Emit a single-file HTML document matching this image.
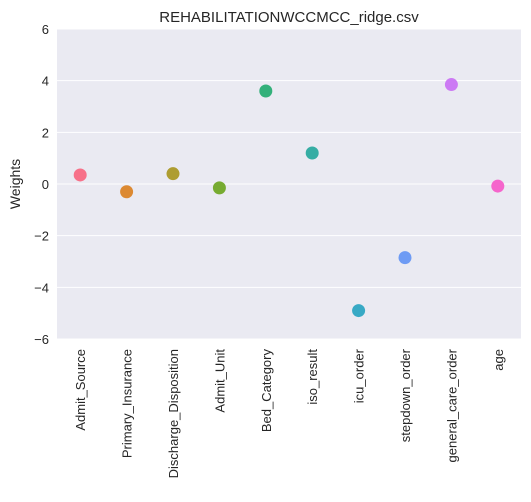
<!DOCTYPE html>
<html><head><meta charset="utf-8"><style>
body{margin:0;background:#fff;font-family:"Liberation Sans",sans-serif;}
</style></head><body>
<svg width="531" height="497" xmlns="http://www.w3.org/2000/svg">
<text x="289" y="22" font-size="15" text-anchor="middle" fill="#262626">REHABILITATIONWCCMCC_ridge.csv</text>
<rect x="57" y="29" width="464" height="310" fill="#eaeaf2"/>
<g id="grid"></g><g id="yt"></g><g id="xt"></g><g id="pts"></g>
<text transform="translate(20,184) rotate(-90)" font-size="14" text-anchor="middle" fill="#262626">Weights</text>
</svg>
<script>
const categories=["Admit_Source","Primary_Insurance","Discharge_Disposition","Admit_Unit","Bed_Category","iso_result","icu_order","stepdown_order","general_care_order","age"];
const weights=[0.35,-0.3,0.4,-0.15,3.6,1.2,-4.9,-2.85,3.85,-0.08];
const colors=["#f77189","#dc8932","#ae9d31","#77ab31","#33b07a","#36ada4","#38a9c5","#6e9bf4","#cc7af4","#f565cc"];
const yTicks=[-6,-4,-2,0,2,4,6];
const X0=57,W=464,Y0=29,H=310,ymin=-6,ymax=6;
const ns="http://www.w3.org/2000/svg";
function y(v){return Y0+(ymax-v)/(ymax-ymin)*H;}
function x(i){return X0+(i+0.5)*W/categories.length;}
function mk(t,a,p){const e=document.createElementNS(ns,t);for(const k in a)e.setAttribute(k,a[k]);document.getElementById(p).appendChild(e);return e;}
yTicks.forEach(v=>{
 const l=mk('line',{x1:X0,x2:X0+W,y1:y(v),y2:y(v),stroke:'#fff','stroke-width':1},'grid');
 
 
 const t=mk('text',{x:X0-8,y:y(v)+5,'font-size':13,'text-anchor':'end',fill:'#262626'},'yt');
 t.textContent=(v<0?'\u2212'+(-v):v);
 
 
});
categories.forEach((c,i)=>{
 const t=mk('text',{transform:`translate(${x(i)+5},349) rotate(-90)`,'font-size':13,'text-anchor':'end',fill:'#262626'},'xt');
 t.textContent=c;
 
 
 const p=mk('circle',{cx:x(i),cy:y(weights[i]),r:6.5,fill:colors[i]},'pts');
 
 
});
</script>
</body></html>
